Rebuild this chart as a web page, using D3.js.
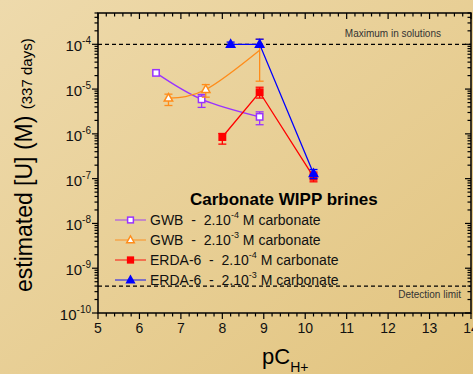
<!DOCTYPE html>
<html>
<head>
<script src="https://cdnjs.cloudflare.com/ajax/libs/d3/7.8.5/d3.min.js"></script>
<style>
  body { margin: 0; }
  svg { display: block; font-family: Arial, "Liberation Sans", sans-serif; }
  text { white-space: pre; }
</style>
</head>
<body>
<svg id="chart" width="473" height="374"></svg>
<script>
// data
const gwb4X = [6.4, 7.5, 8.9];
const gwb4Y = [2.3e-5, 5.9e-6, 2.4e-6];
const gwb4Lo = [null, 3.9e-6, 1.6e-6];
const gwb4Hi = [null, 7.6e-6, 3.1e-6];

const gwb3X = [6.7, 7.6, 8.9];
const gwb3Y = [6.3e-6, 9.8e-6, 7.4e-5];
const gwb3Lo = [4.3e-6, 6.6e-6, 1.5e-5];
const gwb3Hi = [7.7e-6, 1.26e-5, 1.3e-4];

const erda4X = [8.0, 8.9, 10.2];
const erda4Y = [8.5e-7, 8.5e-6, 1.1e-7];
const erda4Lo = [5.9e-7, 6.3e-6, 8.5e-8];
const erda4Hi = [1.02e-6, 1.1e-5, 1.4e-7];

const erda3X = [8.2, 8.9, 10.2];
const erda3Y = [1e-4, 1e-4, 1.3e-7];
const erda3Lo = [8.8e-5, 8.6e-5, 1.0e-7];
const erda3Hi = [1.12e-4, 1.3e-4, 1.6e-7];

const xTicks = [5, 6, 7, 8, 9, 10, 11, 12, 13, 14];
const yExps = [-10, -9, -8, -7, -6, -5, -4];
const maxLine = 1e-4;
const detLine = 4e-10;

const legendNames = ["GWB  -  2.10", "GWB  -  2.10", "ERDA-6  -  2.10", "ERDA-6  -  2.10"];
const legendExps = ["-4", "-3", "-4", "-3"];

const svg = d3.select("#chart");
const W = 473, H = 374;
const pLeft = 98, pRight = 471, pTop = 13, pBottom = 313;

// background
const defs = svg.append("defs");
const grad = defs.append("linearGradient").attr("id", "bg")
  .attr("x1", "0").attr("y1", "0").attr("x2", "1").attr("y2", "1");
grad.append("stop").attr("offset", "0").attr("stop-color", "#eedaac");
grad.append("stop").attr("offset", "1").attr("stop-color", "#e2c47f");
svg.append("rect").attr("width", W).attr("height", H).attr("fill", "url(#bg)");

const x = d3.scaleLinear().domain([5, 14]).range([pLeft, pRight]);
const y = d3.scaleLog().domain([1e-10, 5e-4]).range([pBottom, pTop]);

// ticks
const minorX = d3.range(5, 14.001, 0.2).map(v => +v.toFixed(1));
const minorY = [];
for (let e = -10; e <= -4; e++) for (let m = 1; m <= 9; m++) {
  const v = m * Math.pow(10, e);
  if (v <= 5e-4) minorY.push(v);
}
const tk = svg.append("g").attr("stroke", "#000").attr("stroke-width", 1.2);
minorX.forEach(v => {
  const major = Math.abs(v - Math.round(v)) < 1e-6;
  const len = major ? 6 : 3.5;
  tk.append("line").attr("x1", x(v)).attr("x2", x(v)).attr("y1", pBottom).attr("y2", pBottom + len);
  tk.append("line").attr("x1", x(v)).attr("x2", x(v)).attr("y1", pTop).attr("y2", pTop + len);
});
minorY.forEach(v => {
  const major = Math.abs(Math.log10(v) - Math.round(Math.log10(v))) < 1e-6;
  const len = major ? 6 : 3.5;
  tk.append("line").attr("x1", pLeft).attr("x2", pLeft - len).attr("y1", y(v)).attr("y2", y(v));
  tk.append("line").attr("x1", pRight).attr("x2", pRight - len).attr("y1", y(v)).attr("y2", y(v));
});

// frame
svg.append("rect").attr("x", pLeft).attr("y", pTop).attr("width", pRight - pLeft).attr("height", pBottom - pTop)
  .attr("fill", "none").attr("stroke", "#000").attr("stroke-width", 1.5);

// tick labels
svg.append("g").selectAll("text").data(xTicks).join("text")
  .attr("x", d => x(d)).attr("y", 333).attr("text-anchor", "middle")
  .attr("font-size", 14).attr("fill", "#111").text(d => d);

const yl = svg.append("g").selectAll("text").data(yExps).join("text")
  .attr("x", 91).attr("y", d => y(Math.pow(10, d)) + 7).attr("text-anchor", "end")
  .attr("font-size", 15).attr("fill", "#111");
yl.append("tspan").text("10");
yl.append("tspan").attr("dy", -7).attr("font-size", 10).text(d => d);

// reference lines
[maxLine, detLine].forEach(v => {
  svg.append("line").attr("x1", pLeft).attr("x2", pRight).attr("y1", y(v)).attr("y2", y(v))
    .attr("stroke", "#000").attr("stroke-width", 1.2).attr("stroke-dasharray", "4,3");
});
svg.append("text").attr("x", 441).attr("y", 37).attr("text-anchor", "end")
  .attr("font-size", 10).attr("fill", "#333").text("Maximum in solutions");
svg.append("text").attr("x", 461).attr("y", 298).attr("text-anchor", "end")
  .attr("font-size", 10).attr("fill", "#333").text("Detection limit");

// series
const series = [
  { xs: gwb4X, ys: gwb4Y, lo: gwb4Lo, hi: gwb4Hi, color: "#9933ff", shape: "square", filled: false, curve: d3.curveNatural },
  { xs: gwb3X, ys: gwb3Y, lo: gwb3Lo, hi: gwb3Hi, color: "#ff8c1a", shape: "triangle", filled: false, curve: d3.curveNatural, hideLast: true },
  { xs: erda4X, ys: erda4Y, lo: erda4Lo, hi: erda4Hi, color: "#ff0000", shape: "square", filled: true, curve: d3.curveLinear },
  { xs: erda3X, ys: erda3Y, lo: erda3Lo, hi: erda3Hi, color: "#0000ff", shape: "triangle", filled: true, curve: d3.curveLinear }
];

function marker(g, shape, cx, cy, color, filled, k) {
  k = k || 1;
  if (shape === "square") {
    const h = 3.2 * k;
    g.append("rect").attr("x", cx - h).attr("y", cy - h).attr("width", 2 * h).attr("height", 2 * h)
      .attr("fill", filled ? color : "#fff").attr("stroke", color).attr("stroke-width", 1.5);
  } else {
    const p = [[cx, cy - 4.5 * k], [cx - 4.2 * k, cy + 3 * k], [cx + 4.2 * k, cy + 3 * k]];
    g.append("path").attr("d", "M" + p.join("L") + "Z")
      .attr("fill", filled ? color : "#fff").attr("stroke", color).attr("stroke-width", 1.5)
      .attr("stroke-linejoin", "miter");
  }
}

series.forEach(s => {
  const g = svg.append("g");
  const pts = s.xs.map((v, i) => [x(v), y(s.ys[i])]);
  g.append("path").attr("d", d3.line().curve(s.curve)(pts))
    .attr("fill", "none").attr("stroke", s.color).attr("stroke-width", 1.3);
  s.xs.forEach((v, i) => {
    if (s.lo[i] == null) return;
    const cx = x(v);
    g.append("line").attr("x1", cx).attr("x2", cx).attr("y1", y(s.lo[i])).attr("y2", y(s.hi[i]))
      .attr("stroke", s.color).attr("stroke-width", 1.3);
    [s.lo[i], s.hi[i]].forEach(e => {
      g.append("line").attr("x1", cx - 4).attr("x2", cx + 4).attr("y1", y(e)).attr("y2", y(e))
        .attr("stroke", s.color).attr("stroke-width", 1.3);
    });
  });
  s.xs.forEach((v, i) => {
    if (s.hideLast && i === s.xs.length - 1) return;
    marker(g, s.shape, x(v), y(s.ys[i]), s.color, s.filled);
  });
});

// legend
svg.append("text").attr("x", 190).attr("y", 205).attr("font-size", 17).attr("font-weight", "bold")
  .attr("fill", "#000").text("Carbonate WIPP brines");
series.forEach((s, i) => {
  const ly = 220 + i * 20;
  const g = svg.append("g");
  g.append("line").attr("x1", 115).attr("x2", 146).attr("y1", ly).attr("y2", ly)
    .attr("stroke", s.color).attr("stroke-width", 1.3).attr("opacity", 0.7);
  marker(g, s.shape, 130.5, ly, s.color, s.filled, 0.9);
  const t = g.append("text").attr("x", 150).attr("y", ly + 5).attr("font-size", 14).attr("fill", "#111");
  t.append("tspan").text(legendNames[i]);
  t.append("tspan").attr("dy", -7).attr("font-size", 9).text(legendExps[i]);
  t.append("tspan").attr("dy", 7).text(" M carbonate");
});

// axis titles
const yt = svg.append("text").attr("transform", "translate(32,292) rotate(-90)")
  .attr("fill", "#000");
yt.append("tspan").attr("font-size", 23).text("estimated [U] (M) ");
yt.append("tspan").attr("font-size", 15).text("(337 days)");

const xt = svg.append("text").attr("x", 262).attr("y", 364).attr("fill", "#000");
xt.append("tspan").attr("font-size", 22).text("pC");
xt.append("tspan").attr("font-size", 14).attr("dy", 8).text("H+");
</script>
</body>
</html>
